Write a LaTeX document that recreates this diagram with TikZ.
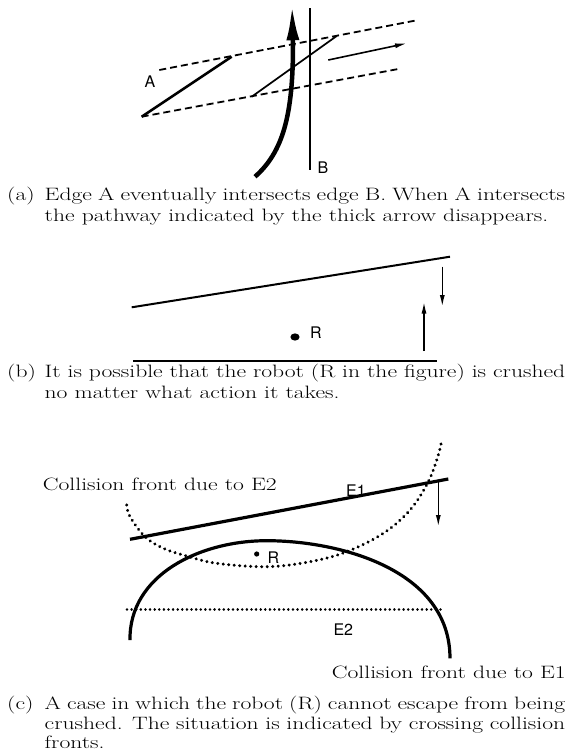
\documentclass[tikz,border=0pt]{standalone}
\usepackage{graphicx}
\usepackage{fontspec}
\newfontfamily\labfont{TeX Gyre Heros}
\usetikzlibrary{arrows.meta}
\newlength\capmeasure
\newcommand\vsq[1]{\scalebox{1}[0.76]{#1}}
\begin{document}
\settowidth\capmeasure{\fontsize{10pt}{12pt}\selectfont Collision front due to E2}%
\pgfmathsetmacro\capfs{10*256/\capmeasure}%
\begin{tikzpicture}[x=1pt,y=-1pt,
  captext/.style={inner sep=0pt, anchor=base west, font=\fontsize{\capfs pt}{20pt}\selectfont},
  lab/.style={inner sep=0pt, anchor=base, font=\labfont\fontsize{16pt}{18pt}\selectfont},
  dashline/.style={line width=1.8pt, dash pattern=on 7pt off 4pt},
  edgeA/.style={line width=2.6pt},
  thinedge/.style={line width=1.7pt},
  thickarrow/.style={line width=4.5pt, -{Latex[length=37pt,width=13pt]}},
  motion/.style={line width=1.6pt, -{Latex[length=12pt,width=5pt]}},
  bigline/.style={line width=3.2pt},
  dotfront/.style={line width=3.3pt, line cap=round, dash pattern=on 0.01pt off 5.5pt},
  dotedge/.style={line width=2.7pt, line cap=round, dash pattern=on 0.01pt off 4.6pt}]
\useasboundingbox (0,0) rectangle (567,753);
\fill[white] (0,0) rectangle (567,753);

% ---------------- (a)
\coordinate (ua) at (159.3,70);   \coordinate (ub) at (418.3,20);
\coordinate (la) at (141.7,116.7); \coordinate (lb) at (398.3,69);
\coordinate (ea) at (231.7,56.7);
\coordinate (ma) at (251.7,96.7); \coordinate (mb) at (336.7,36);
\coordinate (va) at (328.3,60);   \coordinate (vb) at (407,43.3);
\coordinate (bt) at (310,8.3);    \coordinate (bb) at (310,170);
\coordinate (ta) at (255,176.7);  \coordinate (tb) at (293,45); \coordinate (tt) at (292,3.3);
\draw[dashline] (ua) -- (ub);
\draw[dashline] (la) -- (lb);
\draw[edgeA] (la) -- (ea);
\draw[thinedge] (ma) -- (mb);
\draw[motion] (va) -- (vb);
\draw[line width=2pt] (bt) -- (bb);
\draw[thickarrow] (ta) .. controls (283,152) and (293,115) .. (tb) -- (tt);
\node[lab] (labA) at (150,87.3) {A};
\node[lab] (labB) at (323,173.3) {B};

\node[captext] (a0) at (7,200) {\vsq{(a)}};
\node[captext] (a1) at (44.5,200) {\vsq{\makebox[520.5pt][s]{Edge A eventually intersects edge B. When A intersects}}};
\node[captext] (a2) at (44.5,221) {\vsq{the pathway indicated by the thick arrow disappears.}};

% ---------------- (b)
\coordinate (p1) at (131.7,307.3); \coordinate (p2) at (450,256.7);
\coordinate (q1) at (133,360.5);   \coordinate (q2) at (437,360.5);
\coordinate (d1) at (442.3,266.7); \coordinate (d2) at (442.3,307);
\coordinate (u1) at (424,351);     \coordinate (u2) at (424,301.5);
\draw[line width=2pt] (p1) -- (p2);
\draw[line width=2pt] (q1) -- (q2);
\draw[motion] (d1) -- (d2);
\draw[motion] (u1) -- (u2);
\fill (295,337) ellipse[x radius=4.6pt, y radius=3.6pt];
\node[lab] (labRb) at (316,338) {R};

\node[captext] (b0) at (7,377) {\vsq{(b)}};
\node[captext] (b1) at (44.5,377) {\vsq{\makebox[520.5pt][s]{It is possible that the robot (R in the figure) is crushed}}};
\node[captext] (b2) at (44.5,398) {\vsq{no matter what action it takes.}};

% ---------------- (c)
\coordinate (e1a) at (130,539.3); \coordinate (e1b) at (448.3,479);
\coordinate (e2a) at (127,609.3); \coordinate (e2b) at (443,609.3);
\coordinate (c1) at (438.3,480);  \coordinate (c2) at (438.3,527);
\coordinate (fa) at (130,640); \coordinate (fp) at (266.7,540.7); \coordinate (fb) at (450,658.3);
\draw[dotfront] plot[smooth, tension=0.6] coordinates {(126.7,505) (130,516.7) (145,536.7) (163.3,548.3) (186.7,556) (216.7,563.3) (266.7,566.7) (310,561.7) (346.7,551.7) (383.3,533.3) (410,510) (428.3,481.7) (438.3,455) (441.7,440)};
\draw[bigline] (fa) .. controls (129,575) and (200,540.7) .. (fp) .. controls (340,540.7) and (450,570) .. (fb);
\draw[bigline] (e1a) -- (e1b);
\draw[dotedge] (e2a) -- (e2b);
\draw[motion] (c1) -- (c2);
\fill (256.7,554) circle[radius=2.6pt];
\node[lab] (labRc) at (273.3,563.3) {R};
\node[lab] (labE1) at (356,496.5) {E1};
\node[lab] (labE2) at (343.3,635) {E2};
\node[captext] (cf2) at (42.7,490) {\vsq{Collision front due to E2}};
\node[captext] (cf1) at (331.7,678) {\vsq{Collision front due to E1}};

\node[captext] (c0) at (7,709) {\vsq{(c)}};
\node[captext] (cc1) at (44.5,709) {\vsq{\makebox[520.5pt][s]{A case in which the robot (R) cannot escape from being}}};
\node[captext] (cc2) at (44.5,729) {\vsq{\makebox[520.5pt][s]{crushed. The situation is indicated by crossing collision}}};
\node[captext] (cc3) at (44.5,748.5) {\vsq{fronts.}};
\end{tikzpicture}
\end{document}
